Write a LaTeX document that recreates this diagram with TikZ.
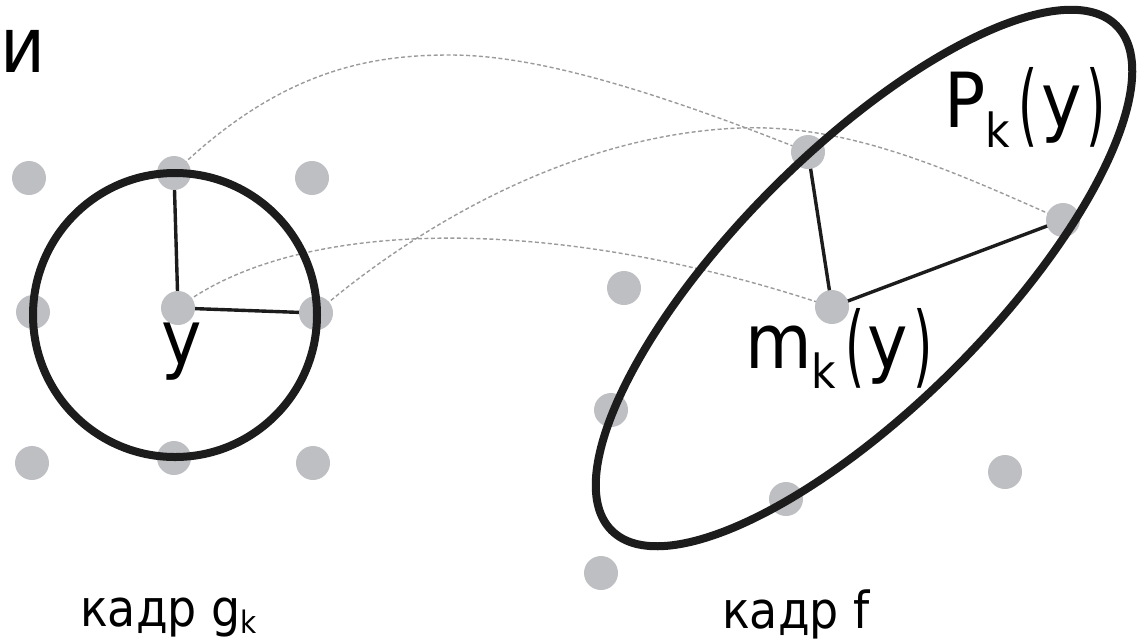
\documentclass[tikz,border=0pt]{standalone}
\usepackage{fontspec}
\setmainfont{DejaVu Sans}[FakeStretch=0.9]
\usepackage{graphicx}
\definecolor{dotgray}{RGB}{189,191,195}
\definecolor{dashgray}{RGB}{155,155,155}
\definecolor{inkblack}{RGB}{28,28,28}
\newcommand\mylp{\raisebox{-8pt}{\scalebox{0.72}[1.18]{(}}}
\newcommand\myrp{\raisebox{-8pt}{\scalebox{0.72}[1.18]{)}}}
\newcommand\mysub[1]{\raisebox{-20pt}{\fontsize{47}{50}\selectfont #1}}
\newcommand\mysmallsub[1]{\raisebox{-7pt}{\fontsize{31}{36}\selectfont #1}}
\tikzset{
  dot/.style={circle, fill=dotgray, draw=none, minimum size=34pt, inner sep=0pt},
  link/.style={draw=inkblack, line width=3.4pt},
  dashcurve/.style={draw=dashgray, line width=1.4pt, dash pattern=on 4pt off 2.5pt},
  ring/.style={draw=inkblack, line width=8pt},
  biglabel/.style={inner sep=0pt, font=\fontsize{76}{84}\selectfont, text=black},
  framelabel/.style={inner sep=0pt, font=\fontsize{51}{56}\selectfont, text=black}
}
\begin{document}
\begin{tikzpicture}[x=1pt, y=-1pt]
\useasboundingbox (0,0) rectangle (1147,641);
% dot positions
\coordinate (pg1) at (29,178);
\coordinate (pg2) at (174,173);
\coordinate (pg3) at (312,178);
\coordinate (pg4) at (33,312);
\coordinate (pgc) at (178,308);
\coordinate (pg6) at (316,313);
\coordinate (pg7) at (32,463);
\coordinate (pg8) at (174,458);
\coordinate (pg9) at (313,463);
\coordinate (pmk) at (832,307);
\coordinate (ppa) at (808,152);
\coordinate (ppb) at (1063,220);
\coordinate (po1) at (624,288);
\coordinate (po2) at (611,410);
\coordinate (po3) at (786,499);
\coordinate (po4) at (1005,472);
\coordinate (po5) at (601,573);
% dashed correspondences
\draw[dashcurve] (pg2) .. controls (280,70) and (370,55) .. (450,55) .. controls (530,55) and (640,85) .. (ppa);
\draw[dashcurve] (pgc) .. controls (300,215) and (560,215) .. (pmk);
\draw[dashcurve] (pg6) .. controls (400,240) and (560,135) .. (740,128) .. controls (850,124) and (950,170) .. (ppb);
% solid links
\draw[link] (pgc) -- (pg2);
\draw[link] (pgc) -- (pg6);
\draw[link] (pmk) -- (ppa);
\draw[link] (pmk) -- (ppb);
% dots
\foreach \n in {g1,g2,g3,g4,gc,g6,g7,g8,g9,mk,pa,pb,o1,o2,o3,o4,o5}
  \node[dot] (\n) at (p\n) {};
% neighbourhoods
\draw[ring] (175,315) circle[radius=142];
\draw[ring, shift={(864,278)}, rotate=45] (0,0) ellipse[x radius=357, y radius=128];
% labels
\node[biglabel, anchor=base] (ly) at (182,364) {y};
\node[biglabel, anchor=base west] (lm) at (745,368) {m\mysub{k}\hspace{9pt}\mylp\hspace{3pt}y\hspace{5pt}\myrp};
\node[biglabel, anchor=base west] (lp) at (944,127) {P\mysub{k}\hspace{9pt}\mylp\hspace{3pt}y\hspace{5pt}\myrp};
\node[inner sep=0pt, font=\fontsize{77}{84}\selectfont, anchor=base west] (li) at (0,72) {и};
\node[framelabel, anchor=base west] (lg) at (80,626) {кадр g\mysmallsub{k}};
\node[framelabel, anchor=base west] (lf) at (722,628) {кадр f};
\end{tikzpicture}
\end{document}
